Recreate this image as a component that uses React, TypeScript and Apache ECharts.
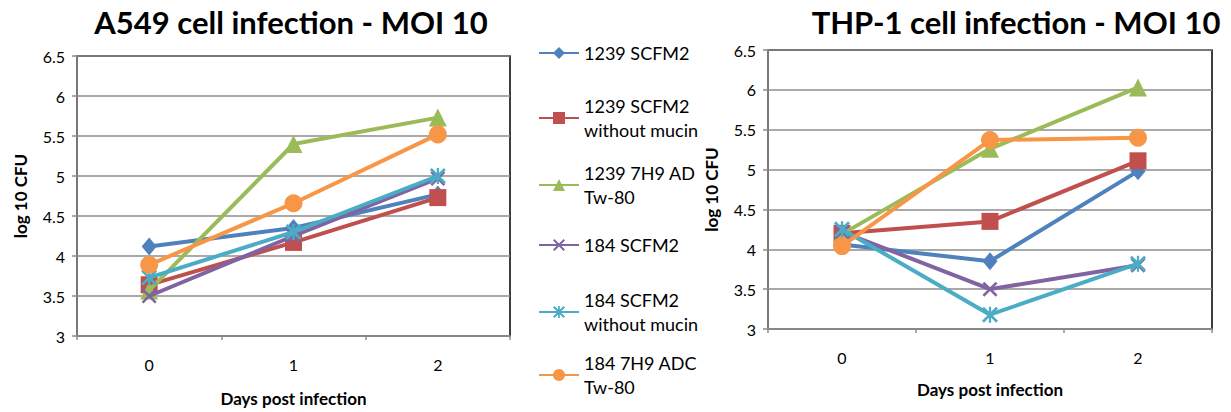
import React, { useEffect, useRef } from "react";
import * as echarts from "echarts";

const days = ["0", "1", "2"];
const seriesNames = [
  "1239 SCFM2",
  "1239 SCFM2\nwithout mucin",
  "1239 7H9 ADC\nTw-80",
  "184 SCFM2",
  "184 SCFM2\nwithout mucin",
  "184 7H9 ADC\nTw-80",
];
const colors = ["#4F81BD", "#C0504D", "#9BBB59", "#8064A2", "#4BACC6", "#F79646"];

// A549 cell infection - MOI 10 (log10 CFU, day 0/1/2)
const a549 = [
  [4.12, 4.35, 4.77],
  [3.64, 4.17, 4.73],
  [3.57, 5.4, 5.73],
  [3.5, 4.25, 4.97],
  [3.73, 4.3, 5.0],
  [3.89, 4.66, 5.52],
];
// THP-1 cell infection - MOI 10
const thp1 = [
  [4.06, 3.85, 4.98],
  [4.2, 4.35, 5.11],
  [4.19, 5.26, 6.03],
  [4.22, 3.5, 3.8],
  [4.25, 3.18, 3.82],
  [4.04, 5.37, 5.4],
];

const titles = ["A549 cell infection - MOI 10", "THP-1 cell infection - MOI 10"];
const xName = "Days post infection";
const yName = "log 10 CFU";

const X_PATH =
  "path://M0,1.2 L1.2,0 L5,3.8 L8.8,0 L10,1.2 L6.2,5 L10,8.8 L8.8,10 L5,6.2 L1.2,10 L0,8.8 L3.8,5 Z";
const STAR_PATH =
  "path://M0,1.2 L1.2,0 L5,3.8 L8.8,0 L10,1.2 L6.2,5 L10,8.8 L8.8,10 L5,6.2 L1.2,10 L0,8.8 L3.8,5 Z M4.3,0 L5.7,0 L5.7,10 L4.3,10 Z";
const symbols = ["diamond", "rect", "triangle", X_PATH, STAR_PATH, "circle"];
const symbolSizes = [[15, 18], 17, 18, 15, 16, 18];

const legendCenters = [53, 118, 185, 245, 312, 375];

const FONT = "Lato";

export default function App() {
  const ref = useRef<HTMLDivElement>(null);
  useEffect(() => {
    if (!ref.current) return;
    const chart = echarts.init(ref.current, null, { renderer: "svg" });
    const grids = [
      { left: 77, right: 721, top: 56, bottom: 72 },
      { left: 768, right: 19, top: 50, bottom: 83 },
    ];
    const mkX = (i: number, nameGap: number, labelMargin: number) => ({
      type: "category",
      gridIndex: i,
      data: days,
      boundaryGap: true,
      name: xName,
      nameLocation: "middle",
      nameGap,
      nameTextStyle: { fontFamily: FONT, fontWeight: "bold", fontSize: 17, color: "#000" },
      axisLine: { lineStyle: { color: "#8c8c8c", width: 1.5 } },
      axisTick: { show: true, length: 4, lineStyle: { color: "#8c8c8c", width: 1.5 } },
      axisLabel: { fontFamily: FONT, fontSize: 16, color: "#000", margin: labelMargin },
      splitLine: { show: false },
    });
    const mkY = (i: number, nameGap: number) => ({
      type: "value",
      gridIndex: i,
      min: 3,
      max: 6.5,
      interval: 0.5,
      name: yName,
      nameLocation: "middle",
      nameGap,
      nameRotate: 90,
      nameTextStyle: { fontFamily: FONT, fontWeight: "bold", fontSize: 17, color: "#000" },
      axisLine: { show: true, lineStyle: { color: "#8c8c8c", width: 1.5 } },
      axisTick: { show: true, length: 5, lineStyle: { color: "#8c8c8c", width: 1.5 } },
      axisLabel: { fontFamily: FONT, fontSize: 16, color: "#000", margin: 12 },
      splitLine: { show: true, lineStyle: { color: "#8c8c8c", width: 1.5 } },
    });
    const series: any[] = [];
    [a549, thp1].forEach((data, gi) => {
      data.forEach((vals, si) => {
        series.push({
          type: "line",
          name: seriesNames[si],
          xAxisIndex: gi,
          yAxisIndex: gi,
          data: vals,
          symbol: symbols[si],
          symbolSize: symbolSizes[si],
          showAllSymbol: true,
          lineStyle: { color: colors[si], width: 4 },
          itemStyle: { color: colors[si] },
          z: 2 + si,
        });
      });
    });
    const legends = seriesNames.map((n, i) => {
      const multi = n.includes("\n");
      return {
        data: [n],
        left: 538,
        top: legendCenters[i] - (multi ? 36 : 12),
        padding: 0,
        itemWidth: 40,
        itemHeight: 15,
        itemGap: 0,
        selectedMode: false,
        textStyle: {
          fontFamily: FONT,
          fontSize: 18,
          color: "#000",
          lineHeight: 24,
          padding: multi ? [24, 0, 0, 0] : 0,
          width: 117,
          overflow: "truncate",
          ellipsis: "",
        },
      };
    });
    chart.setOption({
      animation: false,
      backgroundColor: "#fff",
      title: [
        {
          text: titles[0],
          left: 286,
          top: 1,
          textAlign: "center",
          textStyle: { fontFamily: FONT, fontWeight: "bold", fontSize: 31, color: "#000" },
        },
        {
          text: titles[1],
          left: 1011,
          top: 1,
          textAlign: "center",
          textStyle: { fontFamily: FONT, fontWeight: "bold", fontSize: 31, color: "#000" },
        },
      ],
      legend: legends,
      grid: grids.map((g) => ({ ...g, show: true, borderColor: "#000", borderWidth: 1.5 })),
      xAxis: [mkX(0, 54, 20), mkX(1, 52, 20)],
      yAxis: [mkY(0, 48), mkY(1, 48)],
      series,
    });
    return () => chart.dispose();
  }, []);
  return (
    <div
      ref={ref}
      style={{ position: "fixed", left: 0, top: 0, width: 1231, height: 412 }}
    />
  );
}
